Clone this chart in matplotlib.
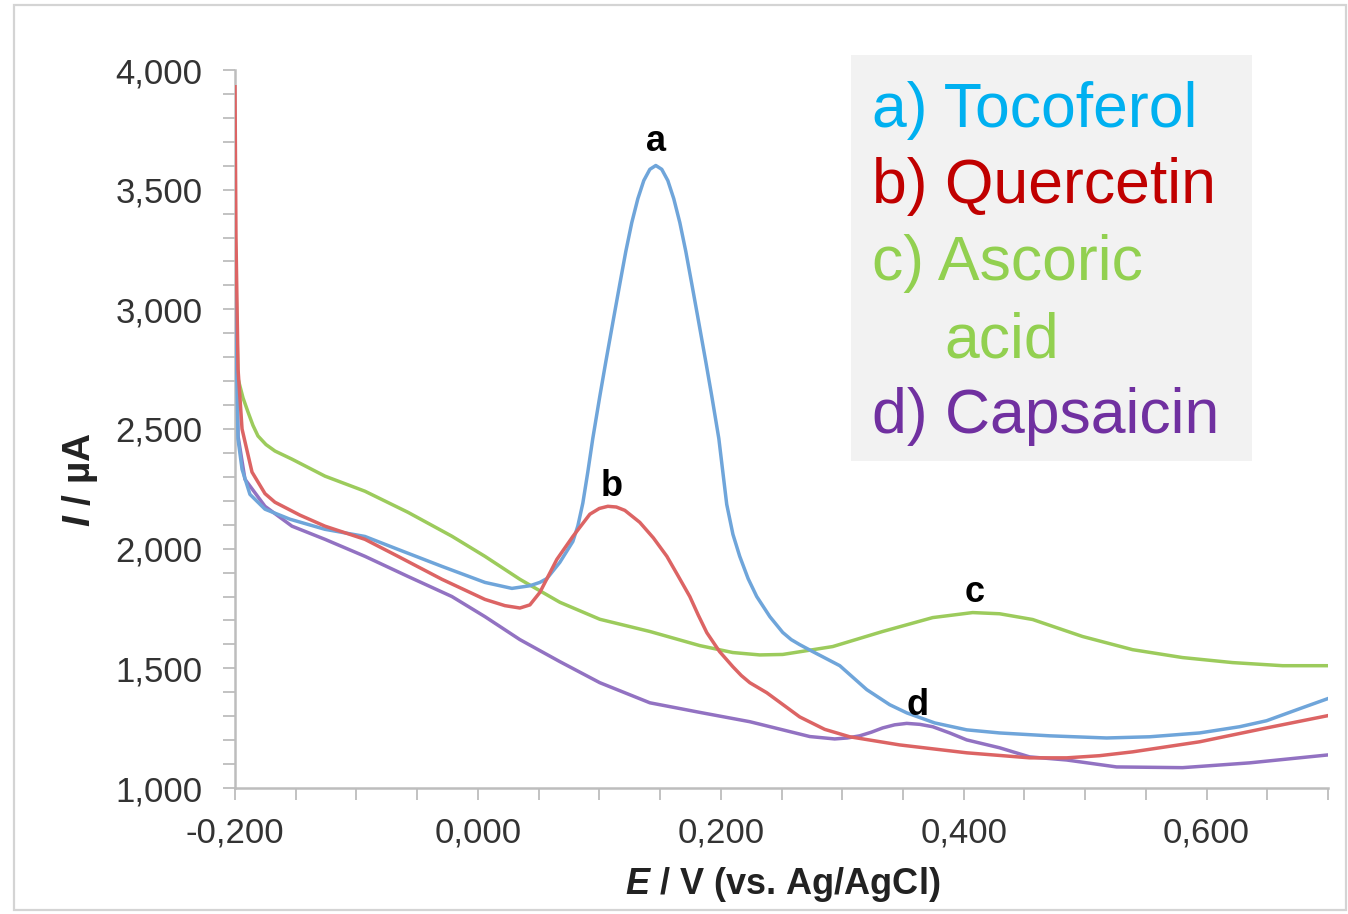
import matplotlib
matplotlib.use("Agg")
import matplotlib.pyplot as plt
from matplotlib.ticker import MultipleLocator, FuncFormatter
from matplotlib.patches import Rectangle

# Voltammogram data: potential E (V vs Ag/AgCl) and current I (uA)
E_toco = [-0.2, -0.1992, -0.1975, -0.1942, -0.1877, -0.1753, -0.1547, -0.126, -0.093, -0.0658,
          -0.0296, 0.0058, 0.028, 0.0428, 0.051, 0.0568, 0.0675, 0.0782, 0.0823, 0.0864,
          0.0905, 0.0946, 0.1004, 0.1053, 0.1119, 0.1169, 0.1218, 0.1267, 0.1317, 0.1366,
          0.1416, 0.1465, 0.1514, 0.1564, 0.1613, 0.1663, 0.1712, 0.1761, 0.1811, 0.1877,
          0.1926, 0.1984, 0.2017, 0.2049, 0.21, 0.2156, 0.2225, 0.2296, 0.2404, 0.251,
          0.258, 0.265, 0.2757, 0.298, 0.3202, 0.3391, 0.3531, 0.3761, 0.4025, 0.4296,
          0.4708, 0.5177, 0.5531, 0.5942, 0.6272, 0.6494, 0.6765, 0.6996]
I_toco = [3310, 2900, 2458, 2332, 2227, 2165, 2123, 2081, 2051, 1997,
          1926, 1859, 1834, 1845, 1859, 1875, 1943, 2030, 2095, 2190,
          2320, 2460, 2637, 2780, 2967, 3107, 3242, 3362, 3462, 3538,
          3585, 3601, 3585, 3538, 3462, 3362, 3242, 3107, 2967, 2780,
          2637, 2460, 2320, 2185, 2060, 1968, 1875, 1800, 1716, 1650,
          1620, 1599, 1570, 1511, 1411, 1348, 1314, 1272, 1243, 1230,
          1218, 1209, 1214, 1230, 1256, 1281, 1331, 1373]

E_quer = [-0.2, -0.1992, -0.1975, -0.1942, -0.186, -0.1753, -0.1671, -0.1465, -0.1259, -0.093,
          -0.0658, -0.0296, 0.0058, 0.0222, 0.0346, 0.0428, 0.051, 0.065, 0.0782, 0.0922,
          0.1, 0.107, 0.114, 0.121, 0.1333, 0.1445, 0.1556, 0.165, 0.1745, 0.1815,
          0.1885, 0.199, 0.2099, 0.2169, 0.2239, 0.2379, 0.265, 0.2856, 0.3062, 0.3473,
          0.4025, 0.4543, 0.4848, 0.5119, 0.5391, 0.5942, 0.6494, 0.6996]
I_quer = [3930, 3300, 2750, 2500, 2320, 2230, 2194, 2140, 2094, 2039,
          1968, 1872, 1788, 1762, 1752, 1765, 1817, 1955, 2051, 2144,
          2168, 2177, 2174, 2160, 2110, 2045, 1968, 1885, 1800, 1722,
          1649, 1570, 1507, 1470, 1440, 1398, 1297, 1245, 1214, 1180,
          1147, 1126, 1126, 1135, 1151, 1193, 1251, 1302]

E_asc = [-0.2, -0.1988, -0.1975, -0.1934, -0.1893, -0.1852, -0.1811, -0.1745, -0.1671, -0.1531,
         -0.1259, -0.093, -0.0576, -0.0214, 0.0058, 0.0346, 0.0675, 0.1004, 0.1416, 0.1827,
         0.2099, 0.2321, 0.251, 0.2922, 0.3333, 0.3745, 0.4074, 0.4296, 0.4568, 0.4979,
         0.5391, 0.5802, 0.6214, 0.6626, 0.6996]
I_asc = [3390, 3000, 2710, 2630, 2571, 2515, 2471, 2435, 2408, 2374,
         2303, 2240, 2152, 2052, 1968, 1872, 1776, 1705, 1654, 1595,
         1566, 1556, 1558, 1591, 1654, 1712, 1733, 1728, 1704, 1633,
         1578, 1545, 1524, 1511, 1511]

E_caps = [-0.2, -0.1992, -0.1975, -0.1918, -0.1753, -0.1531, -0.1259, -0.093, -0.0576, -0.0214,
          0.0058, 0.0346, 0.0675, 0.1004, 0.1416, 0.1827, 0.2239, 0.251, 0.2733, 0.2938,
          0.3041, 0.3144, 0.3239, 0.3333, 0.3432, 0.3531, 0.3638, 0.3745, 0.3885, 0.4025,
          0.4296, 0.4543, 0.4848, 0.5259, 0.5802, 0.6354, 0.6996]
I_caps = [3320, 2900, 2470, 2290, 2177, 2094, 2039, 1968, 1884, 1800,
          1716, 1620, 1528, 1440, 1356, 1316, 1277, 1243, 1215, 1205,
          1209, 1218, 1233, 1251, 1264, 1270, 1266, 1256, 1230, 1201,
          1168, 1130, 1117, 1088, 1085, 1105, 1138]

peak_letters = ["a", "b", "c", "d"]
peak_E = [0.1465, 0.1103, 0.409, 0.3621]
peak_I = [3702, 2261, 1817, 1343]

legend_lines = ["a) Tocoferol", "b) Quercetin", "c) Ascoric", "acid", "d) Capsaicin"]
legend_colors = ["#00B0F0", "#C00000", "#92D050", "#92D050", "#7030A0"]

plt.rcParams["font.family"] = ["Liberation Sans", "DejaVu Sans"]
plt.rcParams["mathtext.fontset"] = "custom"
plt.rcParams["mathtext.bfit"] = "Liberation Sans:italic:bold"
plt.rcParams["mathtext.rm"] = "Liberation Sans"

W, H = 1348, 914
fig = plt.figure(figsize=(W / 100, H / 100), dpi=100)

# light frame around the whole picture
fig.patches.append(Rectangle((14 / W, 1 - 910 / H), (1346 - 14) / W, (910 - 5) / H,
                             transform=fig.transFigure, fill=False,
                             edgecolor="#D4D4D4", linewidth=1.6))

ax = fig.add_axes([235 / W, 1 - 788 / H, (1328 - 235) / W, (788 - 70) / H])

ax.plot(E_toco, I_toco, color="#6FA5DA", lw=2.5, zorder=3, solid_joinstyle="round")
ax.plot(E_quer, I_quer, color="#DC6464", lw=2.5, zorder=3, solid_joinstyle="round")
ax.plot(E_asc, I_asc, color="#9CCB5C", lw=2.5, zorder=2, solid_joinstyle="round")
ax.plot(E_caps, I_caps, color="#9272C2", lw=2.5, zorder=2, solid_joinstyle="round")

for letter, e, i in zip(peak_letters, peak_E, peak_I):
    ax.text(e, i, letter, ha="center", va="center", fontsize=26, fontweight="bold", color="black")

ax.set_xlim(-0.2, 0.7)
ax.set_ylim(1000, 4000)
for side in ["top", "right"]:
    ax.spines[side].set_visible(False)
for side in ["left", "bottom"]:
    ax.spines[side].set_color("#BDBDBD")
    ax.spines[side].set_linewidth(1.8)

ax.xaxis.set_major_locator(MultipleLocator(0.2))
ax.xaxis.set_minor_locator(MultipleLocator(0.05))
ax.yaxis.set_major_locator(MultipleLocator(500))
ax.yaxis.set_minor_locator(MultipleLocator(100))


def fmt_x(v, pos):
    if abs(v) < 1e-9:
        v = 0.0
    return f"{v:.3f}".replace(".", ",")


ax.xaxis.set_major_formatter(FuncFormatter(fmt_x))
ax.yaxis.set_major_formatter(FuncFormatter(lambda v, p: f"{v:,.0f}"))

ax.tick_params(which="both", direction="out", length=8.5, width=1.3, color="#BDBDBD")
ax.tick_params(axis="y", labelsize=25, labelcolor="#333333", pad=15)
ax.tick_params(axis="x", labelsize=25, labelcolor="#333333", pad=12)

# axis titles
fig.text(80 / W, 1 - 480 / H, r"$\mathbfit{I}$ / µA", rotation=90, ha="center", va="center",
         fontsize=28, fontweight="bold", color="#222222")
fig.text(783 / W, 1 - 884 / H, r"$\mathbfit{E}$ / V (vs. Ag/AgCl)", ha="center", va="center",
         fontsize=26, fontweight="bold", color="#222222")

# legend panel
fig.patches.append(Rectangle((851 / W, 1 - 461 / H), (1252 - 851) / W, (461 - 55) / H,
                             transform=fig.transFigure, facecolor="#F2F2F2", edgecolor="none"))
baselines = [127, 203, 280, 357, 433]
for txt, col, yb in zip(legend_lines, legend_colors, baselines):
    x0 = 944 if txt == "acid" else 872
    fig.text(x0 / W, 1 - yb / H, txt, color=col, fontsize=45, ha="left", va="baseline")

plt.savefig("out.png", dpi=100)
